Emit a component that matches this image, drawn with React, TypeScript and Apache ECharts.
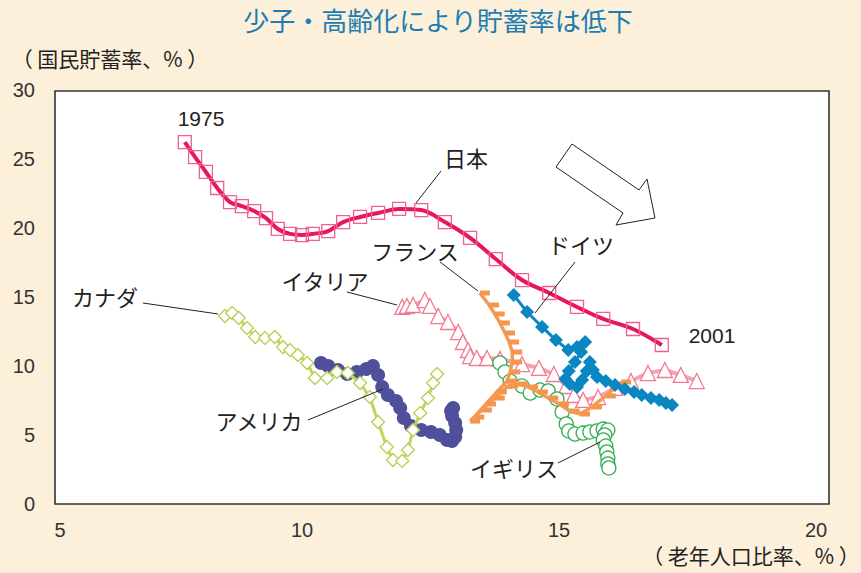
import React, { useEffect, useRef } from "react";
import * as echarts from "echarts";

// Elderly population ratio (%) vs national saving rate (%), 1975–2001
const japan: [number, number][] = [
  [7.72, 26.23], [7.92, 25.14], [8.13, 24.06], [8.35, 22.9], [8.6, 21.88], [8.83, 21.59],
  [9.07, 21.23], [9.3, 20.72], [9.53, 19.93], [9.77, 19.57], [10.0, 19.49], [10.21, 19.57],
  [10.51, 19.78], [10.8, 20.43], [11.13, 20.8], [11.48, 21.09], [11.89, 21.38], [12.32, 21.3],
  [12.78, 20.43], [13.27, 19.28], [13.77, 17.75], [14.28, 16.23], [14.81, 15.29], [15.35, 14.28],
  [15.86, 13.41], [16.44, 12.68], [17.0, 11.52],
];

const germany: [number, number][] = [
  [14.12, 15.14], [14.38, 13.91], [14.67, 12.83], [14.94, 11.88], [15.18, 11.16], [15.35, 11.38],
  [15.51, 11.74], [15.43, 11.01], [15.31, 10.29], [15.19, 9.64], [15.12, 9.06], [15.21, 8.7],
  [15.35, 8.48], [15.45, 8.99], [15.54, 9.64], [15.6, 10.29], [15.66, 9.71], [15.74, 9.2],
  [15.91, 8.91], [16.09, 8.62], [16.28, 8.33], [16.46, 8.12], [16.61, 7.9], [16.79, 7.68],
  [16.95, 7.54], [17.08, 7.32], [17.2, 7.17],
];

const france: [number, number][] = [
  [13.46, 15.29], [13.64, 14.42], [13.75, 13.77], [13.85, 13.12], [13.95, 12.39], [14.03, 11.74],
  [14.09, 11.01], [14.09, 10.29], [14.05, 9.57], [13.99, 8.91], [13.79, 8.12], [13.58, 7.25],
  [13.35, 6.3], [13.27, 6.01], [13.5, 6.81], [13.75, 7.68], [14.01, 8.55], [14.2, 8.7],
  [14.4, 8.48], [14.59, 8.12], [14.79, 7.68], [15.0, 7.25], [15.21, 6.74], [15.41, 6.52],
  [15.64, 7.03], [15.91, 7.83], [16.21, 8.84],
];

const italy: [number, number][] = [
  [11.95, 14.28], [12.04, 14.35], [12.16, 14.42], [12.39, 14.78], [12.49, 14.35], [12.65, 13.62],
  [12.84, 13.19], [13.04, 12.46], [13.13, 11.74], [13.23, 11.16], [13.27, 10.72], [13.4, 10.58],
  [13.6, 10.58], [13.85, 10.51], [14.28, 10.14], [14.61, 9.86], [14.9, 9.42], [15.14, 8.55],
  [15.29, 7.9], [15.47, 7.54], [15.76, 7.75], [16.09, 8.41], [16.4, 8.91], [16.73, 9.49],
  [17.06, 9.71], [17.37, 9.35], [17.68, 8.91],
];

const uk: [number, number][] = [
  [13.85, 10.22], [13.95, 9.57], [14.05, 8.91], [14.28, 8.55], [14.44, 8.04], [14.63, 8.26],
  [14.79, 8.19], [14.96, 7.61], [15.06, 6.67], [15.14, 5.8], [15.19, 5.29], [15.31, 5.07],
  [15.47, 5.14], [15.6, 5.22], [15.74, 5.29], [15.86, 5.43], [15.95, 5.36], [15.89, 5.0],
  [15.86, 4.64], [15.91, 4.2], [15.93, 3.77], [15.95, 3.33], [15.95, 2.9], [15.97, 2.61],
];

const usa: [number, number][] = [
  [10.37, 10.22], [10.51, 10.0], [10.7, 9.71], [10.88, 9.42], [11.07, 9.57], [11.25, 9.78],
  [11.38, 10.0], [11.48, 9.35], [11.56, 8.48], [11.67, 7.9], [11.83, 7.46], [11.91, 6.96],
  [11.98, 6.23], [12.12, 5.65], [12.32, 5.36], [12.51, 5.22], [12.68, 5.0], [12.82, 4.64],
  [12.92, 4.57], [12.98, 4.86], [13.0, 5.36], [12.98, 5.87], [12.92, 6.38], [12.9, 6.74],
  [12.94, 6.96],
];

const canada: [number, number][] = [
  [8.5, 13.62], [8.64, 13.84], [8.77, 13.48], [8.93, 12.75], [9.09, 12.1], [9.28, 12.03],
  [9.47, 12.1], [9.63, 11.38], [9.77, 11.16], [9.92, 10.8], [10.1, 10.22], [10.25, 9.13],
  [10.49, 9.13], [10.68, 9.57], [10.89, 9.49], [11.13, 8.77], [11.32, 7.75], [11.48, 5.94],
  [11.65, 4.13], [11.77, 3.19], [11.95, 3.12], [12.06, 3.91], [12.16, 5.36], [12.3, 6.59],
  [12.45, 7.68], [12.55, 8.77], [12.63, 9.42],
];

const xTicks = { min: 5, max: 20, step: 5 };
const yTicks = { min: 0, max: 30, step: 5 };

const JP = '"Noto Sans CJK JP", sans-serif';
const LAT = '"Liberation Sans", Arial, sans-serif';

function label(text: string, x: number, y: number, size = 22, font = JP) {
  return {
    type: "text",
    z: 20,
    x,
    y,
    style: {
      text,
      fill: "#222",
      font: `${size}px ${font}`,
      textAlign: "center",
      textVerticalAlign: "middle",
    },
  };
}

function leader(x1: number, y1: number, x2: number, y2: number) {
  return {
    type: "line",
    z: 20,
    shape: { x1, y1, x2, y2 },
    style: { stroke: "#222", lineWidth: 1 },
  };
}

export default function App() {
  const ref = useRef<HTMLDivElement>(null);

  useEffect(() => {
    if (!ref.current) return;
    const chart = echarts.init(ref.current, null, { renderer: "svg" });

    const series: any[] = [
      {
        name: "アメリカ",
        type: "line",
        data: usa,
        symbol: "circle",
        symbolSize: 14,
        showAllSymbol: true,
        lineStyle: { color: "#4d4d98", width: 4 },
        itemStyle: { color: "#4f4f9b" },
        z: 2,
      },
      {
        name: "カナダ",
        type: "line",
        data: canada,
        symbol: "diamond",
        symbolSize: 13,
        showAllSymbol: true,
        lineStyle: { color: "#bcd65e", width: 3 },
        itemStyle: { color: "#ffffff", borderColor: "#b5d152", borderWidth: 1.3 },
        z: 3,
      },
      {
        name: "イタリア",
        type: "line",
        data: italy,
        symbol: "triangle",
        symbolSize: 15,
        showAllSymbol: true,
        lineStyle: { color: "#f4a3b3", width: 4 },
        itemStyle: { color: "#ffffff", borderColor: "#f07a92", borderWidth: 1.3 },
        z: 4,
      },
      {
        name: "イギリス",
        type: "line",
        data: uk,
        symbol: "circle",
        symbolSize: 14,
        showAllSymbol: true,
        lineStyle: { color: "#33b152", width: 1.5 },
        itemStyle: { color: "#ffffff", borderColor: "#2fae4f", borderWidth: 1.3 },
        z: 5,
      },
      {
        name: "フランス",
        type: "line",
        data: france,
        symbol: "rect",
        symbolSize: [10, 5],
        symbolOffset: [5, 0],
        showAllSymbol: true,
        lineStyle: { color: "#f59a56", width: 3.5 },
        itemStyle: { color: "#f5964f" },
        z: 6,
      },
      {
        name: "ドイツ",
        type: "line",
        data: germany,
        symbol: "diamond",
        symbolSize: 14,
        showAllSymbol: true,
        lineStyle: { color: "#0a86c2", width: 3 },
        itemStyle: { color: "#0a86c2" },
        z: 7,
      },
      {
        name: "日本",
        type: "line",
        data: japan,
        smooth: 0.35,
        symbol: "rect",
        symbolSize: 13,
        showAllSymbol: true,
        lineStyle: { color: "#e8175d", width: 4 },
        itemStyle: { color: "rgba(255,255,255,0)", borderColor: "#f0628a", borderWidth: 1.3 },
        z: 8,
      },
    ];

    chart.setOption({
      animation: false,
      backgroundColor: "#fdf0da",
      grid: { left: 45, right: 45, top: 90, bottom: 69, show: false },
      xAxis: {
        type: "value",
        min: xTicks.min,
        max: xTicks.max,
        interval: xTicks.step,
        axisLine: { show: false },
        axisTick: { show: false },
        splitLine: { show: false },
        axisLabel: {
          color: "#333",
          fontSize: 20,
          fontFamily: LAT,
          margin: 16,
          formatter: (v: number) => (v === xTicks.min ? `{s|${v}}` : `${v}`),
          rich: { s: { padding: [0, 0, 0, 30], fontSize: 20, fontFamily: LAT, color: "#333" } },
        },
      },
      yAxis: {
        type: "value",
        min: yTicks.min,
        max: yTicks.max,
        interval: yTicks.step,
        axisLine: { show: false },
        axisTick: { show: false },
        splitLine: { show: false },
        axisLabel: { color: "#333", fontSize: 20, fontFamily: LAT, margin: 10 },
      },
      graphic: [
        {
          type: "rect",
          z: -5,
          shape: { x: 55, y: 91, width: 774, height: 413 },
          style: { fill: "#ffffff", stroke: "#333", lineWidth: 1.6 },
        },
        {
          type: "text",
          z: 20,
          x: 438,
          y: 19,
          style: {
            text: "少子・高齢化により貯蓄率は低下",
            fill: "#1b7db3",
            font: `26px ${JP}`,
            textAlign: "center",
            textVerticalAlign: "middle",
          },
        },
        label("（ 国民貯蓄率、% ）", 110, 58, 21),
        label("（ 老年人口比率、% ）", 751, 555, 21),
        label("1975", 201, 118, 21, LAT),
        label("2001", 712, 335, 21, LAT),
        label("日本", 466, 157),
        leader(441, 171, 416, 203),
        label("ドイツ", 581, 244),
        leader(575, 262, 535, 313),
        label("フランス", 415, 250),
        leader(440, 262, 478, 291),
        label("イタリア", 325, 280),
        leader(347, 292, 397, 305),
        label("カナダ", 105, 296),
        leader(143, 303, 218, 314),
        label("アメリカ", 259, 420),
        leader(308, 420, 383, 389),
        label("イギリス", 514, 467),
        leader(558, 463, 600, 442),
        {
          type: "polygon",
          z: 20,
          shape: {
            points: [
              [572, 144], [639, 190], [647, 179], [655, 218], [616, 225], [623, 213], [556, 167],
            ],
          },
          style: { fill: "#ffffff", stroke: "#222", lineWidth: 1 },
        },
      ],
      series,
    });

    return () => chart.dispose();
  }, []);

  return (
    <div
      ref={ref}
      style={{ position: "fixed", left: 0, top: 0, width: 861, height: 573 }}
    />
  );
}
